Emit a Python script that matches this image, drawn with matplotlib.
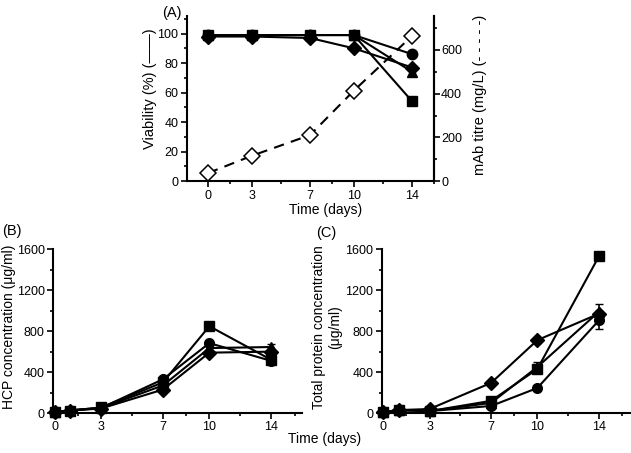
import matplotlib
matplotlib.use("Agg")
import matplotlib.pyplot as plt
from matplotlib.ticker import FixedLocator

plt.rcParams["font.family"] = ["Liberation Sans", "DejaVu Sans"]
plt.rcParams["font.size"] = 10
plt.rcParams["xtick.labelsize"] = 9
plt.rcParams["ytick.labelsize"] = 9

# Panel A: viability (%) and mAb titre (mg/L)
dias_a = [0, 3, 7, 10, 14]
via_circulo = [99, 99, 99, 99, 86]
via_cuadrado = [99, 99, 99, 99, 54]
via_triangulo = [99, 99, 99, 99, 74]
via_diamante = [98, 98, 97, 90, 77]
titulo_mab = [37, 116, 211, 414, 665]

# Panels B and C: days sampled
dias = [0, 1, 3, 7, 10, 14]

# Panel B: HCP concentration (ug/ml)
hcp_circulo = [10, 25, 50, 330, 683, 510]
hcp_cuadrado = [10, 25, 55, 300, 848, 520]
hcp_triangulo = [10, 30, 50, 270, 635, 645]
hcp_diamante = [10, 25, 45, 230, 590, 600]
hcp_err = [5, 8, 10, 20, 25, 25]

# Panel C: total protein concentration (ug/ml)
tp_circulo = [10, 30, 20, 70, 245, 905]
tp_cuadrado = [10, 30, 20, 120, 430, 1530]
tp_triangulo = [10, 30, 20, 100, 450, 990]
tp_diamante = [10, 30, 40, 295, 712, 970]
tp_err_circulo = [5, 5, 5, 10, 15, 80]
tp_err_cuadrado = [5, 5, 5, 40, 20, 20]
tp_err_triangulo = [5, 5, 5, 20, 50, 70]
tp_err_diamante = [5, 5, 5, 20, 25, 25]

marcadores = ["o", "s", "^", "D"]

fig = plt.figure(figsize=(6.31, 4.53), dpi=100)
ax_a = fig.add_axes([0.296, 0.600, 0.392, 0.365])
ax_b = fig.add_axes([0.084, 0.088, 0.395, 0.362])
ax_c = fig.add_axes([0.605, 0.088, 0.393, 0.362])


def estilo(ax, xmax):
    for lado in ["top", "right"]:
        ax.spines[lado].set_visible(False)
    for lado in ["left", "bottom"]:
        ax.spines[lado].set_linewidth(1.5)
    ax.set_xticks([0, 3, 7, 10, 14])
    ax.xaxis.set_minor_locator(FixedLocator([1.5, 5, 8.5, 12, 15.5]))
    ax.tick_params(which="major", width=1.2, length=4, color="black", pad=2)
    ax.tick_params(which="minor", width=1.2, length=2.5, color="black")
    ax.set_xlim(-0.1, xmax)


# ---- Panel A
estilo(ax_a, 15.5)
ax_a.set_xlim(-1.45, 15.5)
ax_a.spines["right"].set_visible(True)
ax_a.spines["right"].set_linewidth(1.5)
for serie, m in zip([via_circulo, via_cuadrado, via_triangulo, via_diamante], marcadores):
    ax_a.plot(dias_a, serie, color="black", lw=1.5, marker=m, ms=7.5,
              markeredgecolor="black", clip_on=False, zorder=3)
ax_a.set_ylim(0, 112)
ax_a.set_yticks([0, 20, 40, 60, 80, 100])
ax_a.yaxis.set_minor_locator(FixedLocator([10, 30, 50, 70, 90, 110]))
ax_a.set_ylabel("Viability (%) (\u2014\u2014)", fontsize=10.5)
ax_a.yaxis.set_label_coords(-0.121, 0.56)
ax_a.set_xlabel("Time (days)")
ax_a.xaxis.set_label_coords(0.563, -0.13)

ax_a2 = ax_a.twinx()
ax_a2.spines["top"].set_visible(False)
ax_a2.spines["left"].set_visible(False)
ax_a2.spines["bottom"].set_visible(False)
ax_a2.spines["right"].set_linewidth(1.5)
ax_a2.plot(dias_a, titulo_mab, color="black", lw=1.5, ls=(0, (5, 3.5)), marker="D",
           ms=8.5, markerfacecolor="white", markeredgecolor="black",
           markeredgewidth=1.1, clip_on=False, zorder=4)
ax_a2.set_ylim(0, 756)
ax_a2.set_yticks([0, 200, 400, 600])
ax_a2.yaxis.set_minor_locator(FixedLocator([100, 300, 500, 700]))
ax_a2.tick_params(which="major", width=1.2, length=4, pad=1)
ax_a2.tick_params(which="minor", width=1.2, length=2.5)
ax_a2.set_ylabel("mAb titre (mg/L) (- - - - -)", fontsize=10.5)
ax_a2.yaxis.set_label_coords(1.158, 0.52)
fig.text(0.257, 0.962, "(A)", fontsize=10.5, va="baseline")

# ---- Panel B
estilo(ax_b, 16)
for serie, m in zip([hcp_circulo, hcp_cuadrado, hcp_triangulo, hcp_diamante], marcadores):
    ax_b.errorbar(dias, serie, yerr=hcp_err, color="black", lw=1.5, marker=m,
                  ms=7, capsize=3, elinewidth=1.2, clip_on=False, zorder=3)
ax_b.set_ylim(0, 1600)
ax_b.set_yticks([0, 400, 800, 1200, 1600])
ax_b.yaxis.set_minor_locator(FixedLocator([200, 600, 1000, 1400]))
ax_b.set_ylabel("HCP concentration (\u03bcg/ml)", fontsize=10)
ax_b.yaxis.set_label_coords(-0.149, 0.525)
fig.text(0.003, 0.481, "(B)", fontsize=10.5, va="baseline")

# ---- Panel C
estilo(ax_c, 16)
for serie, err, m in zip([tp_circulo, tp_cuadrado, tp_triangulo, tp_diamante],
                         [tp_err_circulo, tp_err_cuadrado, tp_err_triangulo, tp_err_diamante],
                         marcadores):
    ax_c.errorbar(dias, serie, yerr=err, color="black", lw=1.5, marker=m,
                  ms=7, capsize=3, elinewidth=1.2, clip_on=False, zorder=3)
ax_c.set_ylim(0, 1600)
ax_c.set_yticks([0, 400, 800, 1200, 1600])
ax_c.yaxis.set_minor_locator(FixedLocator([200, 600, 1000, 1400]))
ax_c.set_ylabel("Total protein concentration\n(\u03bcg/ml)", fontsize=10, linespacing=1.2)
ax_c.yaxis.set_label_coords(-0.161, 0.525)
fig.text(0.501, 0.476, "(C)", fontsize=10.5, va="baseline")

fig.text(0.515, 0.046, "Time (days)", ha="center", va="top")

fig.savefig("out.png", dpi=100)
